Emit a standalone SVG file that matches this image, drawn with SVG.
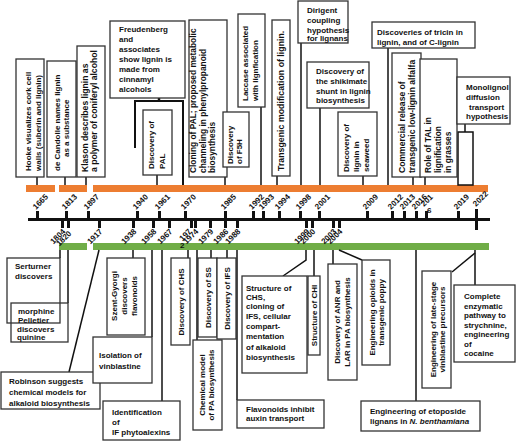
<svg xmlns="http://www.w3.org/2000/svg" width="520" height="441" viewBox="0 0 520 441">
<style>
.box{fill:#fff;stroke:#333;stroke-width:1.3}
.t{font-family:"Liberation Sans",Arial,sans-serif;font-weight:bold;font-size:8px;fill:#111}
.r{font-size:8px}
.yr{font-family:"Liberation Sans",Arial,sans-serif;font-weight:bold;font-size:8px;fill:#111}
.c{stroke:#111;stroke-width:1.5;fill:none}
.tk{fill:#111}
.or{fill:#ED7D31}
.gr{fill:#70AD47}
</style>
<rect width="520" height="441" fill="#fff"/>
<g id="bars">
<rect class="or" x="26" y="185" width="29" height="7"/>
<rect class="or" x="59" y="185" width="28" height="7"/>
<rect class="or" x="93" y="185" width="395" height="7"/>
<rect class="gr" x="59" y="243" width="28" height="7"/>
<rect class="gr" x="93" y="243" width="396" height="7"/>
</g>
<g id="axis">
<line x1="28" y1="219.5" x2="490" y2="219.5" stroke="#111" stroke-width="3"/>
<g class="tk">
<rect x="36" y="211" width="3" height="8"/><rect x="65" y="211" width="3" height="8"/><rect x="87" y="211" width="3" height="8"/>
<rect x="136" y="211" width="3" height="8"/><rect x="158" y="211" width="3" height="8"/><rect x="184" y="211" width="3" height="8"/>
<rect x="224" y="211" width="3" height="8"/><rect x="252" y="211" width="3" height="8"/><rect x="262" y="211" width="3" height="8"/>
<rect x="278" y="211" width="3" height="8"/><rect x="299" y="211" width="3" height="8"/><rect x="318" y="211" width="3" height="8"/>
<rect x="366" y="211" width="3" height="8"/><rect x="391" y="211" width="3" height="8"/><rect x="403" y="211" width="3" height="8"/>
<rect x="415" y="211" width="3" height="8"/><rect x="425" y="211" width="3" height="8"/><rect x="457" y="211" width="3" height="8"/>
<rect x="475" y="209" width="3" height="21"/>
<rect x="61" y="220" width="3" height="8"/><rect x="67" y="220" width="3" height="8"/><rect x="98" y="220" width="3" height="8"/>
<rect x="132" y="220" width="3" height="8"/><rect x="152" y="220" width="3" height="8"/><rect x="168" y="220" width="3" height="8"/>
<rect x="190" y="220" width="3" height="8"/><rect x="194" y="220" width="3" height="8"/><rect x="209" y="220" width="3" height="8"/>
<rect x="224" y="220" width="3" height="8"/><rect x="236" y="220" width="3" height="8"/><rect x="305" y="220" width="3" height="8"/>
<rect x="311" y="220" width="3" height="8"/><rect x="332" y="220" width="3" height="8"/><rect x="338" y="220" width="3" height="8"/>
</g>
<g class="yr">
<text transform="translate(36,210) rotate(-45)">1665</text>
<text transform="translate(65,210) rotate(-45)">1813</text>
<text transform="translate(87,210) rotate(-45)">1897</text>
<text transform="translate(136,210) rotate(-45)">1940</text>
<text transform="translate(158,210) rotate(-45)">1961</text>
<text transform="translate(184,210) rotate(-45)">1970</text>
<text transform="translate(224,210) rotate(-45)">1985</text>
<text transform="translate(252,210) rotate(-45)">1992</text>
<text transform="translate(262,210) rotate(-45)">1993</text>
<text transform="translate(278,210) rotate(-45)">1994</text>
<text transform="translate(299,210) rotate(-45)">1998</text>
<text transform="translate(318,210) rotate(-45)">2001</text>
<text transform="translate(366,210) rotate(-45)">2009</text>
<text transform="translate(391,210) rotate(-45)">2012</text>
<text transform="translate(403,210) rotate(-45)">2013</text>
<text transform="translate(415,210) rotate(-45)">2016</text>
<text transform="translate(424,207) rotate(-45)">201</text>
<text x="427" y="213">6</text>
<text transform="translate(457,210) rotate(-45)">2019</text>
<text transform="translate(476,207) rotate(-45)">2022</text>
<g text-anchor="end">
<text transform="translate(66,232) rotate(-45)">1804</text>
<text transform="translate(72,234) rotate(-45)">1820</text>
<text transform="translate(103,232) rotate(-45)">1917</text>
<text transform="translate(137,232) rotate(-45)">1938</text>
<text transform="translate(157,232) rotate(-45)">1958</text>
<text transform="translate(173,232) rotate(-45)">1967</text>
<text transform="translate(192,232) rotate(-45)">197</text>
<text transform="translate(199,232) rotate(-45)">1974</text>
<text transform="translate(214,232) rotate(-45)">1979</text>
<text transform="translate(229,232) rotate(-45)">1986</text>
<text transform="translate(241,232) rotate(-45)">1988</text>
<text transform="translate(310,232) rotate(-45)">1999</text>
<text transform="translate(316,232) rotate(-45)">2000</text>
<text transform="translate(337,232) rotate(-45)">2003</text>
<text transform="translate(343,232) rotate(-45)">2004</text>
</g>
<text x="180" y="248">2</text>
</g>
</g>
<g id="connectors" class="c">
<line x1="37" y1="177" x2="37" y2="185"/>
<line x1="65" y1="177" x2="65" y2="185"/>
<line x1="86" y1="177" x2="86" y2="185"/>
<line x1="159" y1="98" x2="159" y2="101" stroke-width="2.5"/>
<path d="M135,148 V101 H183 V185" stroke-width="2"/>
<line x1="157" y1="175" x2="157" y2="185"/>
<line x1="225" y1="167" x2="225" y2="185"/>
<line x1="261" y1="107" x2="261" y2="185"/>
<line x1="277" y1="176" x2="277" y2="185"/>
<line x1="301" y1="43" x2="301" y2="185"/>
<line x1="320" y1="108" x2="320" y2="185"/>
<line x1="363" y1="176" x2="363" y2="185"/>
<line x1="388" y1="48" x2="388" y2="185"/>
<line x1="413" y1="177" x2="413" y2="185"/>
<line x1="425" y1="177" x2="425" y2="185"/>
<line x1="465" y1="124" x2="465" y2="132"/>
<rect x="458" y="132" width="15" height="53"/>
<line x1="60" y1="250" x2="60" y2="258"/>
<line x1="68" y1="250" x2="68" y2="303"/>
<line x1="99" y1="250" x2="69" y2="372"/>
<line x1="133" y1="250" x2="133" y2="258"/>
<line x1="152" y1="250" x2="152" y2="337"/>
<line x1="162" y1="250" x2="162" y2="401"/>
<line x1="188" y1="250" x2="188" y2="258"/>
<line x1="197" y1="250" x2="197" y2="340"/>
<line x1="211" y1="250" x2="211" y2="258"/>
<line x1="227" y1="250" x2="227" y2="258"/>
<line x1="237" y1="250" x2="237" y2="400"/>
<polyline points="306,250 306,260 283,276"/>
<line x1="314" y1="250" x2="314" y2="276"/>
<line x1="333" y1="250" x2="333" y2="264"/>
<line x1="339" y1="250" x2="362" y2="260"/>
<line x1="416" y1="250" x2="416" y2="401"/>
<line x1="475" y1="250" x2="475" y2="285"/>
<line x1="475" y1="253" x2="452" y2="272"/>
</g>
<g id="hooke"><rect class="box" x="16" y="59" width="28" height="118"/>
<text class="t r" transform="translate(31,171) rotate(-90)">Hooke visualizes cork cell</text>
<text class="t r" transform="translate(40.5,171) rotate(-90)">walls (suberin and lignin)</text></g>
<g id="candolle"><rect class="box" x="47" y="61" width="29" height="116"/>
<text class="t r" transform="translate(59.5,171) rotate(-90)">de Candolle names lignin</text>
<text class="t r" transform="translate(68.5,157) rotate(-90)">as a substance</text></g>
<g id="klason"><rect class="box" x="77" y="46" width="28" height="131"/>
<text class="t" style="font-size:8.6px" transform="translate(88,172) rotate(-90)">Klason describes lignin as</text>
<text class="t" style="font-size:8.6px" transform="translate(97,172) rotate(-90)">a polymer of coniferyl alcohol</text></g>
<g id="freudenberg"><rect class="box" x="110" y="21" width="75" height="77"/>
<text class="t"><tspan x="119" y="32">Freudenberg</tspan><tspan x="119" y="42">and</tspan><tspan x="119" y="52">associates</tspan><tspan x="119" y="62">show lignin is</tspan><tspan x="119" y="72">made from</tspan><tspan x="119" y="82">cinnamyl</tspan><tspan x="119" y="92">alcohols</tspan></text></g>
<g id="pal"><rect class="box" x="143" y="110" width="29" height="65"/>
<text class="t r" transform="translate(154,169) rotate(-90)">Discovery of</text>
<text class="t r" transform="translate(165,169) rotate(-90)">PAL</text></g>
<g id="cloning"><rect class="box" x="189" y="20" width="38" height="157"/>
<text class="t" style="font-size:8.4px" transform="translate(196,173) rotate(-90)">Cloning of PAL; proposed metabolic</text>
<text class="t" style="font-size:8.4px" transform="translate(205.5,173) rotate(-90)">channeling in phenylpropanoid</text>
<text class="t" style="font-size:8.4px" transform="translate(215,173) rotate(-90)">biosynthesis</text></g>
<g id="f5h"><rect class="box" x="223" y="112" width="26" height="55"/>
<text class="t r" transform="translate(233,164) rotate(-90)">Discovery</text>
<text class="t r" transform="translate(242,164) rotate(-90)">of F5H</text></g>
<g id="laccase"><rect class="box" x="238" y="14" width="27" height="93"/>
<text class="t r" transform="translate(248,101) rotate(-90)">Laccase associated</text>
<text class="t r" transform="translate(258,101) rotate(-90)">with lignfication</text></g>
<g id="transgenic"><rect class="box" x="272" y="20" width="18" height="156"/>
<text class="t" style="font-size:8.8px" transform="translate(284,171) rotate(-90)">Transgenic modification of lignin.</text></g>
<g id="dirigent"><rect class="box" x="298" y="1" width="50" height="42"/>
<text class="t"><tspan x="307" y="13">Dirigent</tspan><tspan x="307" y="23">coupling</tspan><tspan x="307" y="32.5">hypothesis</tspan><tspan x="307" y="41">for lignans</tspan></text></g>
<g id="shikimate"><rect class="box" x="307" y="62" width="62" height="46"/>
<text class="t"><tspan x="316" y="74">Discovery of</tspan><tspan x="316" y="84">the shikimate</tspan><tspan x="316" y="94">shunt in lignin</tspan><tspan x="316" y="103">biosynthesis</tspan></text></g>
<g id="seaweed"><rect class="box" x="338" y="112" width="39" height="64"/>
<text class="t r" transform="translate(349,172) rotate(-90)">Discovery of</text>
<text class="t r" transform="translate(359,172) rotate(-90)">lignin in</text>
<text class="t r" transform="translate(369,172) rotate(-90)">seaweed</text></g>
<g id="tricin"><rect class="box" x="372" y="22" width="103" height="26"/>
<text class="t"><tspan x="377" y="35">Discoveries of tricin in</tspan><tspan x="377" y="45">lignin, and of C-lignin</tspan></text></g>
<g id="commercial"><rect class="box" x="392" y="53" width="29" height="124"/>
<text class="t" style="font-size:8.6px" transform="translate(404.5,173) rotate(-90)">Commercial release of</text>
<text class="t" style="font-size:8.6px" transform="translate(414.5,173) rotate(-90)">transgenic low-lignin alfalfa</text></g>
<g id="tal"><rect class="box" x="420" y="59" width="37" height="118"/>
<text class="t" style="font-size:8.4px" transform="translate(430.5,173) rotate(-90)">Role of TAL in</text>
<text class="t" style="font-size:8.4px" transform="translate(440.5,173) rotate(-90)">lignification</text>
<text class="t" style="font-size:8.4px" transform="translate(450.5,173) rotate(-90)">in grasses</text></g>
<g id="monolignol"><rect class="box" x="457" y="77" width="53" height="47"/>
<text class="t"><tspan x="466" y="90">Monolignol</tspan><tspan x="466" y="100">diffusion</tspan><tspan x="469" y="109.5">transport</tspan><tspan x="466" y="119">hypothesis</tspan></text></g>
<g id="serturner"><rect class="box" x="7" y="258" width="53" height="65"/>
<text class="t"><tspan x="15" y="269">Serturner</tspan><tspan x="15" y="279">discovers</tspan></text></g>
<g id="pelletier"><rect class="box" x="11" y="303" width="57" height="39" fill-opacity="0"/>
<text class="t"><tspan x="18" y="314">morphine</tspan><tspan x="18" y="322.5">Pelletier</tspan><tspan x="17" y="331.5">discovers</tspan><tspan x="17" y="340">quinine</tspan></text></g>
<g id="robinson"><rect class="box" x="1" y="372" width="99" height="37"/>
<text class="t"><tspan x="9" y="384">Robinson suggests</tspan><tspan x="9" y="395">chemical models for</tspan><tspan x="9" y="406">alkaloid biosynthesis</tspan></text></g>
<g id="szent"><rect class="box" x="107" y="258" width="38" height="77"/>
<text class="t" text-anchor="middle" transform="translate(117,296) rotate(-90)">Szent-Gyorgi</text>
<text class="t" text-anchor="middle" transform="translate(127,296) rotate(-90)">discovers</text>
<text class="t" text-anchor="middle" transform="translate(137,296) rotate(-90)">flavonoids</text></g>
<g id="isolation"><rect class="box" x="93" y="337" width="59" height="46"/>
<text class="t"><tspan x="99" y="358">Isolation of</tspan><tspan x="99" y="369">vinblastine</tspan></text></g>
<g id="identification"><rect class="box" x="103" y="401" width="77" height="39"/>
<text class="t"><tspan x="112" y="415">Identification</tspan><tspan x="112" y="425">of</tspan><tspan x="112" y="435">IF phytoalexins</tspan></text></g>
<g id="chs"><rect class="box" x="171" y="258" width="19" height="87"/>
<text class="t" text-anchor="middle" transform="translate(183.5,302) rotate(-90)">Discovery of CHS</text></g>
<g id="chemical"><rect class="box" x="193" y="340" width="29" height="90"/>
<text class="t" text-anchor="middle" transform="translate(205,385) rotate(-90)">Chemical model</text>
<text class="t" text-anchor="middle" transform="translate(214,385) rotate(-90)">of PA biosynthesis</text></g>
<g id="ss"><rect class="box" x="198" y="258" width="19" height="79"/>
<text class="t" text-anchor="middle" transform="translate(210.5,297.5) rotate(-90)">Discovery of SS</text></g>
<g id="ifs"><rect class="box" x="217" y="258" width="19" height="81"/>
<text class="t" text-anchor="middle" transform="translate(229.5,298.5) rotate(-90)">Discovery of IFS</text></g>
<g id="flavonoids"><rect class="box" x="237" y="400" width="87" height="28"/>
<text class="t"><tspan x="246" y="411.5">Flavonoids inhibit</tspan><tspan x="246" y="421">auxin transport</tspan></text></g>
<g id="structure"><rect class="box" x="242" y="276" width="65" height="97"/>
<text class="t"><tspan x="246" y="291">Structure of</tspan><tspan x="246" y="300">CHS,</tspan><tspan x="246" y="309">cloning of</tspan><tspan x="246" y="319">IFS, cellular</tspan><tspan x="246" y="329">compart-</tspan><tspan x="246" y="339">mentation</tspan><tspan x="246" y="350">of alkaloid</tspan><tspan x="246" y="360">biosynthesis</tspan></text></g>
<g id="chi"><rect class="box" x="308" y="276" width="12" height="79"/>
<text class="t" text-anchor="middle" transform="translate(317,315.5) rotate(-90)">Structure of CHI</text></g>
<g id="anr"><rect class="box" x="328" y="264" width="29" height="116"/>
<text class="t" text-anchor="middle" transform="translate(340,322) rotate(-90)">Discovery of ANR and</text>
<text class="t" text-anchor="middle" transform="translate(350,322) rotate(-90)">LAR in PA biosynthesis</text></g>
<g id="poppy"><rect class="box" x="362" y="260" width="28" height="105"/>
<text class="t" text-anchor="middle" transform="translate(375,312.5) rotate(-90)">Engineering opioids in</text>
<text class="t" text-anchor="middle" transform="translate(384,312.5) rotate(-90)">transgenic poppy</text></g>
<g id="etoposide"><rect class="box" x="361" y="401" width="119" height="30"/>
<text class="t"><tspan x="370" y="414">Engineering of etoposide</tspan><tspan x="370" y="424">lignans in <tspan font-style="italic">N. benthamiana</tspan></tspan></text></g>
<g id="latestage"><rect class="box" x="422" y="271" width="29" height="117"/>
<text class="t" text-anchor="middle" transform="translate(436,329.5) rotate(-90)">Engineering of late-stage</text>
<text class="t" text-anchor="middle" transform="translate(445,329.5) rotate(-90)">vinblastine precursors</text></g>
<g id="complete"><rect class="box" x="454" y="285" width="61" height="77"/>
<text class="t"><tspan x="464" y="299">Complete</tspan><tspan x="464" y="308.5">enzymatic</tspan><tspan x="464" y="318">pathway to</tspan><tspan x="464" y="327.5">strychnine,</tspan><tspan x="464" y="337">engineering</tspan><tspan x="464" y="346.5">of</tspan><tspan x="464" y="356">cocaine</tspan></text></g>
</svg>
